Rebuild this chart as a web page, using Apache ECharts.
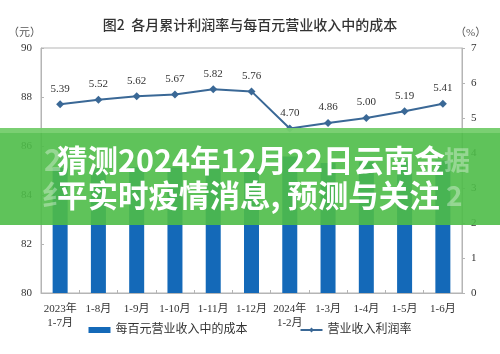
<!DOCTYPE html>
<html>
<head>
<meta charset="utf-8">
<script src="https://cdn.jsdelivr.net/npm/echarts@6/dist/echarts.min.js"></script>
<style>
  html, body { margin: 0; padding: 0; background: #fff; }
  #chart { width: 500px; height: 354px; }
</style>
</head>
<body>
<div id="chart"></div>
<script>
// categories (months, cumulative)
const months = ['2023年\n1-7月', '1-8月', '1-9月', '1-10月', '1-11月', '1-12月',
  '2024年\n1-2月', '1-3月', '1-4月', '1-5月', '1-6月'];
// cost per 100 yuan of revenue (bars, left axis)
const costPer100 = [85.10, 85.08, 85.13, 85.12, 85.13, 85.06, 85.57, 85.31, 85.36, 85.37, 85.41];
// profit margin % (line, right axis)
const profitRate = [5.39, 5.52, 5.62, 5.67, 5.82, 5.76, 4.70, 4.86, 5.00, 5.19, 5.41];

const serif = '"Liberation Serif", "DejaVu Serif", "Noto Sans CJK SC", serif';
const cjk = '"Noto Sans CJK SC", sans-serif';

const myChart = echarts.init(document.getElementById('chart'));

const option = {
  animation: false,
  title: {
    text: '图2  各月累计利润率与每百元营业收入中的成本',
    left: 'center',
    top: 13,
    textStyle: { fontFamily: cjk, fontSize: 14, fontWeight: 500, color: '#333' }
  },
  grid: {
    left: 41, right: 38, top: 48, bottom: 61,
    show: true, borderColor: '#b5b5b5', borderWidth: 1
  },
  legend: {
    bottom: 13,
    left: 'center',
    itemGap: 52,
    itemWidth: 22,
    itemHeight: 6,
    textStyle: { fontFamily: serif, fontSize: 12, color: '#333' },
    data: [
      { name: '每百元营业收入中的成本', icon: 'rect' },
      { name: '营业收入利润率' }
    ]
  },
  xAxis: {
    type: 'category',
    data: months,
    axisLine: { lineStyle: { color: '#b5b5b5' } },
    axisTick: { show: true, inside: true, length: 3, lineStyle: { color: '#b5b5b5' } },
    axisLabel: { fontFamily: serif, fontSize: 11, color: '#333', lineHeight: 14, margin: 9, interval: 0 }
  },
  yAxis: [
    {
      type: 'value', min: 80, max: 90, interval: 2,
      splitLine: { show: false },
      axisLine: { show: true, lineStyle: { color: '#b5b5b5' } },
      axisTick: { show: true, inside: true, length: 3, lineStyle: { color: '#b5b5b5' } },
      axisLabel: { fontFamily: serif, fontSize: 11, color: '#333', margin: 9 }
    },
    {
      type: 'value', min: 0, max: 7, interval: 1,
      splitLine: { show: false },
      axisLine: { show: true, lineStyle: { color: '#b5b5b5' } },
      axisTick: { show: true, length: 3, lineStyle: { color: '#b5b5b5' } },
      axisLabel: { fontFamily: serif, fontSize: 11, color: '#333', margin: 9 }
    }
  ],
  series: [
    {
      name: '每百元营业收入中的成本',
      type: 'bar',
      yAxisIndex: 0,
      barWidth: 15,
      data: costPer100,
      itemStyle: { color: '#1469b8' }
    },
    {
      name: '营业收入利润率',
      type: 'line',
      yAxisIndex: 1,
      data: profitRate,
      symbol: 'diamond',
      symbolSize: 8,
      lineStyle: { color: '#3a6896', width: 2 },
      itemStyle: { color: '#3a6896' },
      label: {
        show: true, position: 'top', distance: 6,
        fontFamily: serif, fontSize: 11, color: '#333',
        formatter: p => p.value.toFixed(2)
      },
      z: 3
    }
  ],
  graphic: [
    { type: 'text', left: 8, top: 28, style: { text: '（元）', fontFamily: serif, fontSize: 11, fill: '#555' } },
    { type: 'text', left: 455, top: 28, style: { text: '（%）', fontFamily: serif, fontSize: 11, fill: '#555' } },
    // overlay banner
    { type: 'rect', x: 0, y: 128, z: 100,
      shape: { width: 500, height: 97 },
      style: { fill: 'rgba(78,188,72,0.9)' } },
    { type: 'rect', x: 0, y: 128, z: 101,
      shape: { width: 500, height: 5 },
      style: { fill: 'rgba(140,215,130,0.6)' } },
    // faint background lettering
    { type: 'text', x: 44, y: 160, z: 101,
      style: { text: '2', fontFamily: cjk, fontWeight: 'bold', fontSize: 30, fill: 'rgba(255,255,255,0.35)', verticalAlign: 'middle' } },
    { type: 'text', x: 444, y: 160, z: 101,
      style: { text: '据', fontFamily: cjk, fontWeight: 'bold', fontSize: 26, fill: 'rgba(255,255,255,0.35)', verticalAlign: 'middle' } },
    { type: 'text', x: 42, y: 195, z: 101,
      style: { text: '纟', fontFamily: cjk, fontWeight: 'bold', fontSize: 28, fill: 'rgba(255,255,255,0.35)', verticalAlign: 'middle' } },
    { type: 'text', x: 446, y: 195, z: 101,
      style: { text: '2', fontFamily: cjk, fontWeight: 'bold', fontSize: 28, fill: 'rgba(255,255,255,0.35)', verticalAlign: 'middle' } },
    // headline
    { type: 'text', x: 57, y: 160, z: 102,
      style: { text: '猜测2024年12月22日云南金', fontFamily: cjk, fontWeight: 'bold', fontSize: 30.5, fill: '#fff', verticalAlign: 'middle' } },
    { type: 'text', x: 57, y: 195, z: 102,
      style: { text: '平实时疫情消息, 预测与关注', fontFamily: cjk, fontWeight: 'bold', fontSize: 30.5, fill: '#fff', verticalAlign: 'middle' } }
  ]
};

myChart.setOption(option);
</script>
</body>
</html>
